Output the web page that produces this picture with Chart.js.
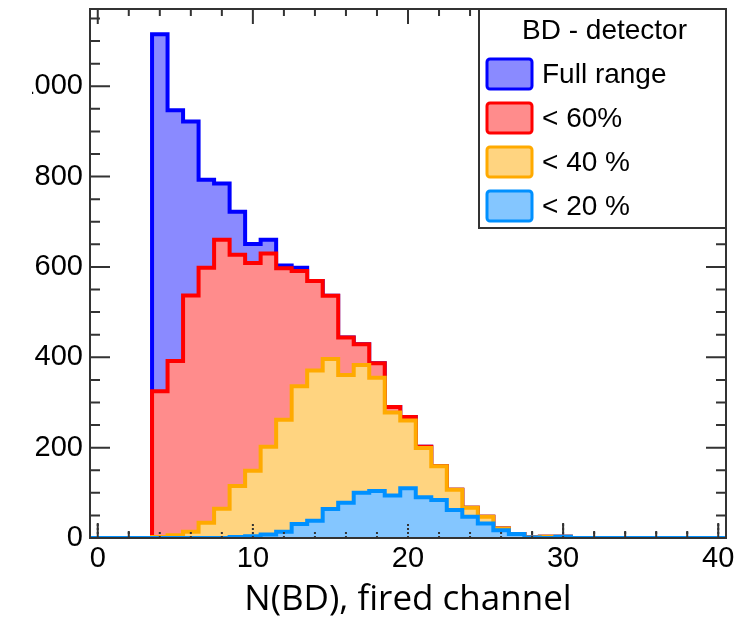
<!DOCTYPE html>
<html>
<head>
<meta charset="utf-8">
<title>BD detector multiplicity</title>
<script src="https://cdn.jsdelivr.net/npm/chart.js@4.4.0/dist/chart.umd.min.js"></script>
<style>
  html, body { margin: 0; padding: 0; background: #fff; overflow: hidden; }
  #wrap { position: absolute; left: 32px; top: 0; width: 716px; height: 623px; }
</style>
</head>
<body>
<div id="wrap"><canvas id="bdChart"></canvas></div>
<script>
// Bin contents, unit-width bins centred on 0, 1, ..., 40
const nFullRange = [0, 0, 0, 0, 1115, 947, 922, 793, 785, 722, 651, 660, 603, 598, 569, 536, 444, 429, 387, 290, 268, 202, 159, 107, 67, 47, 21, 9, 1, 3, 3, 0, 0, 0, 0, 0, 0, 0, 0, 0, 0];
const nBelow60 = [0, 0, 0, 0, 325, 392, 537, 598, 660, 627, 609, 630, 597, 591, 569, 536, 444, 429, 387, 290, 268, 202, 159, 107, 67, 47, 21, 9, 1, 3, 3, 0, 0, 0, 0, 0, 0, 0, 0, 0, 0];
const nBelow40 = [0, 0, 0, 0, 2, 6, 14, 34, 65, 115, 149, 202, 262, 336, 371, 396, 361, 383, 355, 278, 260, 199, 159, 107, 67, 47, 21, 9, 1, 3, 3, 0, 0, 0, 0, 0, 0, 0, 0, 0, 0];
const nBelow20 = [0, 0, 0, 0, 0, 0, 0, 0, 0, 2, 4, 8, 14, 31, 38, 64, 78, 100, 104, 94, 110, 90, 84, 62, 47, 32, 17, 9, 1, 0, 3, 0, 0, 0, 0, 0, 0, 0, 0, 0, 0];

const seriesLabels = ["Full range", "< 60%", "< 40 %", "< 20 %"];
const lineColors = ["#0000ff", "#ff0000", "#ffaa00", "#0090ff"];
const fillColors = ["#8a8aff", "#ff8c8c", "#ffd480", "#84c6ff"];
const legendTitle = "BD - detector";
const xTitle = "N(BD), fired channel";
const xTickValues = [0, 10, 20, 30, 40];
const yTickValues = [0, 200, 400, 600, 800, 1000];

const X_LOW = -0.5;
const X_HIGH = 40.5;
const Y_MAX = 1171;
const frameColor = "#333";

// Turn bin contents into left-edge points for a stepped line
function histPoints(counts) {
    const pts = counts.map((v, i) => ({ x: X_LOW + i, y: v }));
    pts.push({ x: X_LOW + counts.length, y: counts[counts.length - 1] });
    return pts;
}

const histograms = [nFullRange, nBelow60, nBelow40, nBelow20];

// Tick marks pointing into the frame; bottom ones optionally only
function strokeTicks(chart, sides) {
    const { ctx, chartArea: a, scales: { x, y } } = chart;
    ctx.beginPath();
    for (let v = 0; v <= 40; v += 2) {
        const px = x.getPixelForValue(v);
        const len = v % 10 === 0 ? 15 : 7;
        if (sides.bottom) { ctx.moveTo(px, a.bottom); ctx.lineTo(px, a.bottom - len); }
        if (sides.top) { ctx.moveTo(px, a.top); ctx.lineTo(px, a.top + len); }
    }
    for (let v = 0; v <= Y_MAX; v += 50) {
        const py = y.getPixelForValue(v);
        const len = v % 200 === 0 ? 20 : 10;
        if (sides.left) { ctx.moveTo(a.left, py); ctx.lineTo(a.left + len, py); }
        if (sides.right) { ctx.moveTo(a.right, py); ctx.lineTo(a.right - len, py); }
    }
    ctx.stroke();
}

const rootFrame = {
    id: "rootFrame",
    beforeDatasetsDraw(chart) {
        const { ctx } = chart;
        ctx.save();
        ctx.strokeStyle = frameColor;
        ctx.lineWidth = 2;
        strokeTicks(chart, { top: true, bottom: true, left: true, right: true });
        ctx.restore();
    },
    afterDatasetsDraw(chart) {
        const { ctx, chartArea: a } = chart;
        ctx.save();
        ctx.strokeStyle = frameColor;
        ctx.lineWidth = 2;
        // bottom ticks peek through the hatched fills as dotted marks
        ctx.setLineDash([2, 2]);
        strokeTicks(chart, { bottom: true });
        ctx.setLineDash([]);
        ctx.strokeRect(a.left, a.top, a.right - a.left, a.bottom - a.top);
        ctx.restore();
    }
};

// Boxed legend in the top-right corner of the frame
const rootLegend = {
    id: "rootLegend",
    afterDraw(chart) {
        const { ctx, chartArea: a } = chart;
        const boxW = 247, boxH = 219;
        const left = a.right - boxW, top = a.top;
        ctx.save();
        ctx.fillStyle = "#fff";
        ctx.fillRect(left, top, boxW, boxH);
        ctx.strokeStyle = frameColor;
        ctx.lineWidth = 2;
        ctx.strokeRect(left, top, boxW, boxH);

        ctx.fillStyle = "#000";
        ctx.font = "28px 'Liberation Sans', Arial, sans-serif";
        ctx.textAlign = "center";
        ctx.textBaseline = "middle";
        ctx.fillText(legendTitle, left + boxW / 2 + 2, top + 22);

        ctx.textAlign = "left";
        chart.data.datasets.forEach((ds, i) => {
            const cy = top + 65 + 44 * i;
            ctx.beginPath();
            ctx.roundRect(left + 8, cy - 15, 45, 30, 3);
            ctx.fillStyle = ds.backgroundColor;
            ctx.fill();
            ctx.strokeStyle = ds.borderColor;
            ctx.lineWidth = 3;
            ctx.stroke();
            ctx.fillStyle = "#000";
            ctx.fillText(ds.label, left + 63, cy + 1);
        });
        ctx.restore();
    }
};

// Drop the label overhang padding so the frame sits where it should
function noOverhang(scale) {
    scale.paddingTop = 0;
    scale.paddingBottom = 0;
    scale.paddingLeft = 0;
    scale.paddingRight = 0;
}

const ctx = document.getElementById("bdChart").getContext("2d");

window.bdChart = new Chart(ctx, {
    type: "line",
    data: {
        datasets: histograms.map((counts, i) => ({
            label: seriesLabels[i],
            data: histPoints(counts),
            borderColor: lineColors[i],
            backgroundColor: fillColors[i],
            borderWidth: 4,
            stepped: "before",
            fill: "origin",
            pointRadius: 0,
            order: histograms.length - i   // last series ends up on top
        }))
    },
    options: {
        responsive: true,
        maintainAspectRatio: false,
        animation: false,
        events: [],
        layout: { padding: { left: 0, right: 22, top: 9, bottom: 0 } },
        elements: {
            line: { tension: 0, borderJoinStyle: "miter", borderCapStyle: "butt" }
        },
        plugins: {
            legend: { display: false },
            tooltip: { enabled: false }
        },
        scales: {
            x: {
                type: "linear",
                min: X_LOW,
                max: X_HIGH,
                grid: { display: false, drawTicks: false },
                border: { display: false },
                afterBuildTicks: scale => { scale.ticks = xTickValues.map(v => ({ value: v })); },
                afterFit: scale => { scale.height = 85; noOverhang(scale); },
                ticks: {
                    autoSkip: false,
                    maxRotation: 0,
                    padding: 4,
                    color: "#000",
                    font: { family: "'Liberation Sans', Arial, sans-serif", size: 29 },
                    callback: v => String(v)
                },
                title: {
                    display: true,
                    text: xTitle,
                    color: "#000",
                    font: { family: "'Open Sans', sans-serif", size: 35 },
                    padding: { top: 0, bottom: 2 }
                }
            },
            y: {
                min: 0,
                max: Y_MAX,
                grid: { display: false, drawTicks: false },
                border: { display: false },
                afterBuildTicks: scale => { scale.ticks = yTickValues.map(v => ({ value: v })); },
                afterFit: scale => { scale.width = 58; noOverhang(scale); },
                ticks: {
                    padding: 7,
                    color: "#000",
                    font: { family: "'Liberation Sans', Arial, sans-serif", size: 29 },
                    callback: v => String(v)
                }
            }
        }
    },
    plugins: [rootFrame, rootLegend]
});
</script>
</body>
</html>
